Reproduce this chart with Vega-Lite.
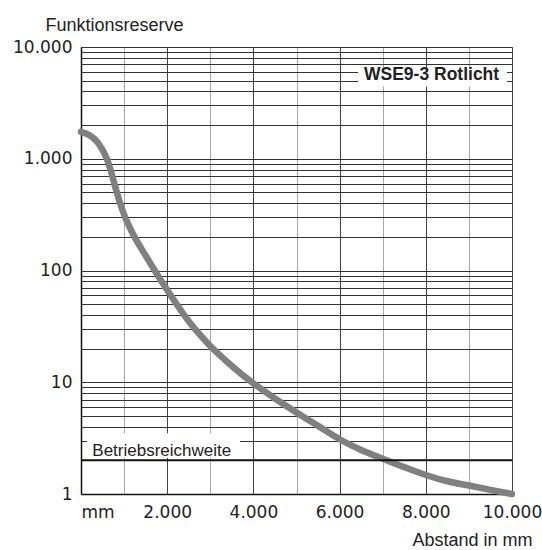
{
  "$schema": "https://vega.github.io/schema/vega-lite/v6.json",
  "width": 431,
  "height": 447,
  "autosize": {"type": "none"},
  "padding": {"left": 81, "top": 47, "right": 30, "bottom": 56},
  "background": "white",
  "config": {"view": {"stroke": null}},
  "datasets": {
    "curve": [
      {"x": 0, "y": 1738}, {"x": 200, "y": 1622}, {"x": 400, "y": 1380}, {"x": 600, "y": 1000},
      {"x": 700, "y": 759}, {"x": 800, "y": 550}, {"x": 900, "y": 407}, {"x": 1000, "y": 316},
      {"x": 1200, "y": 214}, {"x": 1500, "y": 136}, {"x": 2000, "y": 66.8}, {"x": 2500, "y": 35.1},
      {"x": 3000, "y": 21.1}, {"x": 3500, "y": 14.0}, {"x": 4000, "y": 9.77}, {"x": 4500, "y": 7.16},
      {"x": 5000, "y": 5.37}, {"x": 5500, "y": 4.07}, {"x": 6000, "y": 3.09}, {"x": 6500, "y": 2.48},
      {"x": 7000, "y": 2.07}, {"x": 7500, "y": 1.74}, {"x": 8000, "y": 1.48}, {"x": 8500, "y": 1.30},
      {"x": 9000, "y": 1.19}, {"x": 9500, "y": 1.09}, {"x": 10000, "y": 1.0}
    ],
    "boxes": [
      {"x": 139, "x2": 3689, "y": 2.1, "y2": 3.5},
      {"x": 6427, "x2": 9884, "y": 4436, "y2": 6560}
    ],
    "plainLabels": [
      {"x": 262, "y": 2.43, "text": "Betriebsreichweite"}
    ],
    "boldLabels": [
      {"x": 6566, "y": 5570, "text": "WSE9-3 Rotlicht"}
    ],
    "limit": [{"y": 2}]
  },
  "layer": [
    {
      "data": {"name": "curve"},
      "mark": {"type": "line", "color": "#808080", "strokeWidth": 6.5, "strokeCap": "round", "interpolate": "monotone", "clip": false},
      "encoding": {
        "x": {
          "field": "x", "type": "quantitative",
          "scale": {"domain": [0, 10000], "nice": false, "zero": false},
          "axis": {
            "values": [0, 1000, 2000, 3000, 4000, 5000, 6000, 7000, 8000, 9000, 10000],
            "labelExpr": "datum.value == 0 ? 'mm' : (datum.value % 2000 == 0 ? replace(format(datum.value, ','), ',', '.') : '')",
            "labelAlign": {"condition": {"test": "datum.value == 0", "value": "left"}, "value": "center"},
            "labelFont": "DejaVu Sans", "labelFontSize": 17, "labelColor": "#222", "labelPadding": 10,
            "labelOverlap": false, "labelFlush": false, "labelBound": false,
            "ticks": false, "tickSize": 0,
            "domain": true, "domainColor": "#111", "domainWidth": 1.5,
            "grid": true,
            "gridColor": {"condition": {"test": "datum.value % 2000 == 0", "value": "#444"}, "value": "#aaa"},
            "gridWidth": 1, "gridOpacity": 1,
            "title": "Abstand in mm", "titleFont": "Liberation Sans", "titleFontSize": 18, "titleFontWeight": "normal",
            "titleColor": "#222", "titleAlign": "right", "titleAnchor": null, "titleBaseline": "alphabetic",
            "titleX": 451, "titleY": 51
          }
        },
        "y": {
          "field": "y", "type": "quantitative",
          "scale": {"type": "log", "domain": [1, 10000], "nice": false},
          "axis": {
            "values": [1,2,3,4,5,6,7,8,9,10,20,30,40,50,60,70,80,90,100,200,300,400,500,600,700,800,900,1000,2000,3000,4000,5000,6000,7000,8000,9000,10000],
            "labelExpr": "datum.value == 1 ? '1' : datum.value == 10 ? '10' : datum.value == 100 ? '100' : datum.value == 1000 ? '1.000' : datum.value == 10000 ? '10.000' : ''",
            "labelFont": "DejaVu Sans", "labelFontSize": 17, "labelColor": "#222", "labelPadding": 9,
            "labelOverlap": false, "labelFlush": false, "labelBound": false,
            "ticks": false, "tickSize": 0,
            "domain": true, "domainColor": "#111", "domainWidth": 1.5,
            "grid": true, "gridColor": "#333", "gridWidth": 1, "gridOpacity": 1,
            "title": "Funktionsreserve", "titleFont": "Liberation Sans", "titleFontSize": 18, "titleFontWeight": "normal",
            "titleColor": "#222", "titleAngle": 0, "titleAlign": "left", "titleAnchor": null, "titleBaseline": "alphabetic",
            "titleX": -36, "titleY": -17
          }
        }
      }
    },
    {
      "data": {"name": "limit"},
      "mark": {"type": "rule", "color": "#111", "strokeWidth": 2},
      "encoding": {
        "y": {"field": "y", "type": "quantitative"}
      }
    },
    {
      "data": {"name": "boxes"},
      "mark": {"type": "rect", "color": "white", "opacity": 1},
      "encoding": {
        "x": {"field": "x", "type": "quantitative"},
        "x2": {"field": "x2"},
        "y": {"field": "y", "type": "quantitative"},
        "y2": {"field": "y2"}
      }
    },
    {
      "data": {"name": "plainLabels"},
      "mark": {"type": "text", "align": "left", "baseline": "middle", "font": "Liberation Sans", "fontSize": 17, "color": "#222"},
      "encoding": {
        "x": {"field": "x", "type": "quantitative"},
        "y": {"field": "y", "type": "quantitative"},
        "text": {"field": "text"}
      }
    },
    {
      "data": {"name": "boldLabels"},
      "mark": {"type": "text", "align": "left", "baseline": "middle", "font": "Liberation Sans", "fontSize": 17.5, "fontWeight": "bold", "color": "#222"},
      "encoding": {
        "x": {"field": "x", "type": "quantitative"},
        "y": {"field": "y", "type": "quantitative"},
        "text": {"field": "text"}
      }
    }
  ]
}
